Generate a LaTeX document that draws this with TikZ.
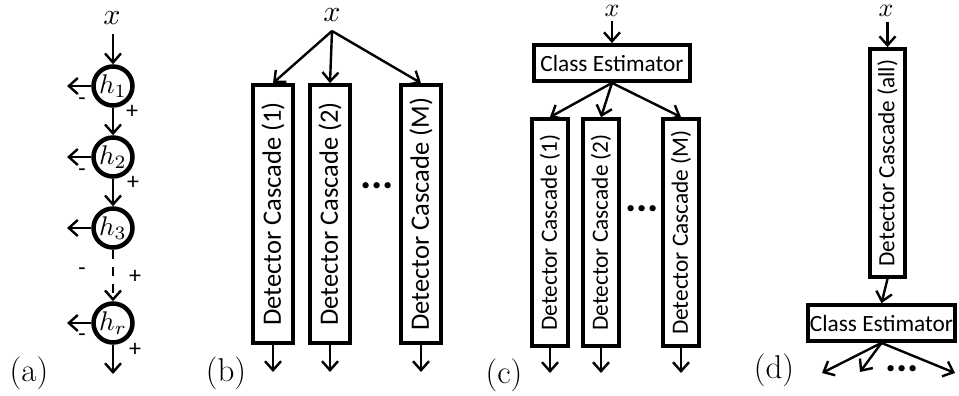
\documentclass[tikz,border=0pt]{standalone}
\usepackage{graphicx}
\usepackage{fontspec}
\setmainfont{Carlito}
\newfontfamily\lmr{Latin Modern Roman}
\usetikzlibrary{arrows.meta}
\newcommand{\mth}[2]{\scalebox{#1}{$#2$}}
\tikzset{
  arr/.style={line width=2.4pt,-{Straight Barb[length=9pt,width=16pt,line width=2.4pt]}},
  dbox/.style={draw,line width=3.8pt,rotate=90,inner sep=0pt,anchor=center},
  cbox/.style={draw,line width=3.8pt,inner sep=0pt,minimum height=36pt},
  hnode/.style={draw,circle,line width=4.5pt,minimum size=39pt,inner sep=0pt},
  sgn/.style={inner sep=0pt,font=\fontsize{24}{28}\selectfont},
  panel/.style={inner sep=0pt,font=\lmr\fontsize{33}{38}\selectfont},
  plain/.style={inner sep=0pt},
  dots/.style={inner sep=0pt,anchor=base,font=\fontsize{42}{46}\selectfont\bfseries},
  fb/.style={font=\fontsize{26.5}{30}\selectfont},
  fc/.style={font=\fontsize{23.3}{28}\selectfont}
}
\begin{document}
\begin{tikzpicture}[x=1pt,y=-1pt]
\useasboundingbox (0,0) rectangle (959,396);
% ---------- (a)
\node[plain] (xa) at (112,18) {\mth{3.0}{x}};
\node[hnode] (h1) at (113,86) {\mth{2.7}{h_1}};
\node[hnode] (h2) at (113,157) {\mth{2.7}{h_2}};
\node[hnode] (h3) at (113,228) {\mth{2.7}{h_3}};
\node[hnode] (hr) at (113,323) {\mth{2.7}{h_r}};
\coordinate (xa0) at (113,34);
\coordinate (l1) at (67,86);
\coordinate (l2) at (67,157);
\coordinate (l3) at (67,228);
\coordinate (lr) at (67,323);
\coordinate (ra) at (113,374);
\draw[arr] (xa0) -- (h1.north);
\draw[arr] (h1.south) -- (h2.north);
\draw[arr] (h2.south) -- (h3.north);
\draw[arr,dash pattern=on 9pt off 8pt] (h3.south) -- (hr.north);
\draw[arr] (hr.south) -- (ra);
\draw[arr] (h1.west) -- (l1);
\draw[arr] (h2.west) -- (l2);
\draw[arr] (h3.west) -- (l3);
\draw[arr] (hr.west) -- (lr);
\node[sgn] (m1) at (82,102) {-};
\node[sgn] (p1) at (132,112) {+};
\node[sgn] (m2) at (82,173) {-};
\node[sgn] (p2) at (133,183) {+};
\node[sgn] (m3) at (82,272) {-};
\node[sgn] (p3) at (135,277) {+};
\node[sgn] (mr) at (82,338) {-};
\node[sgn] (pr) at (135,350) {+};
\node[panel] (la) at (29,373) {(a)};
% ---------- (b)
\node[plain] (xb) at (332,15) {\mth{3.0}{x}};
\coordinate (xb0) at (332,31);
\node[dbox,fb,minimum width=258pt,minimum height=40pt] (b1) at (273,214) {Detector Cascade (1)};
\node[dbox,fb,minimum width=258pt,minimum height=40pt] (b2) at (330,214) {Detector Cascade (2)};
\node[dbox,fb,minimum width=258pt,minimum height=40pt] (bm) at (421,214) {Detector Cascade (M)};
\draw[arr] (xb0) -- (b1.east);
\draw[arr] (xb0) -- (b2.east);
\draw[arr] (xb0) -- (bm.east);
\coordinate (ob1) at (273,372);
\coordinate (ob2) at (330,372);
\coordinate (obm) at (421,372);
\draw[arr] (b1.west) -- (ob1);
\draw[arr] (b2.west) -- (ob2);
\draw[arr] (bm.west) -- (obm);
\node[dots] (db) at (377,188) {...};
\node[panel] (lb) at (226,373) {(b)};
% ---------- (c)
\node[plain] (xc) at (612,11) {\mth{2.6}{x}};
\coordinate (xc0) at (612,21);
\node[cbox,fc,minimum width=156pt] (ce) at (612,63) {Class Estimator};
\draw[arr] (xc0) -- (ce.north);
\node[dbox,fc,minimum width=227pt,minimum height=36pt] (c1) at (550,232.5) {Detector Cascade (1)};
\node[dbox,fc,minimum width=227pt,minimum height=36pt] (c2) at (601,232.5) {Detector Cascade (2)};
\node[dbox,fc,minimum width=227pt,minimum height=36pt] (cm) at (681,232.5) {Detector Cascade (M)};
\draw[arr] (ce.south) -- (c1.east);
\draw[arr] (ce.south) -- (c2.east);
\draw[arr] (ce.south) -- (cm.east);
\coordinate (oc1) at (550,373);
\coordinate (oc2) at (601,373);
\coordinate (ocm) at (681,373);
\draw[arr] (c1.west) -- (oc1);
\draw[arr] (c2.west) -- (oc2);
\draw[arr] (cm.west) -- (ocm);
\node[dots] (dc) at (642,211) {...};
\node[panel] (lc) at (504,375) {(c)};
% ---------- (d)
\node[plain] (xd) at (886,11) {\mth{2.6}{x}};
\coordinate (xd0) at (887.5,22);
\node[dbox,fc,minimum width=228pt,minimum height=35pt] (da) at (887.5,163) {Detector Cascade (all)};
\draw[arr] (xd0) -- (da.east);
\node[cbox,fc,minimum width=147pt] (de) at (881.5,323) {Class Estimator};
\draw[arr] (da.west) -- (de.north);
\coordinate (od1) at (822,373);
\coordinate (od2) at (860,372);
\coordinate (od3) at (955,373);
\draw[arr] (de.south) -- (od1);
\draw[arr] (de.south) -- (od2);
\draw[arr] (de.south) -- (od3);
\node[dots] (dd) at (902,371) {...};
\node[panel] (ld) at (774,370) {(d)};
\end{tikzpicture}
\end{document}
